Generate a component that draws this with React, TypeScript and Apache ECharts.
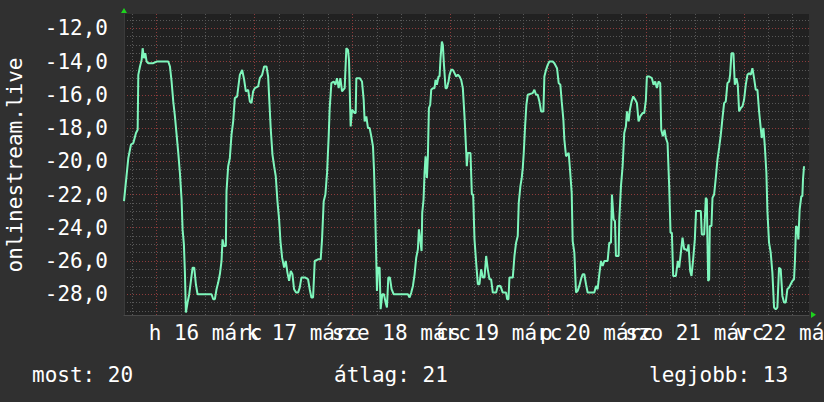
import React, { useEffect, useRef } from "react";
import * as echarts from "echarts";

// hours since 15 márc 16:00, value
const mar15: [number, number][] = [[0,-22.4],[0.65,-20.8],[1.06,-19.8],[1.71,-19.0],[2.29,-18.9],[2.94,-18.3],[3.35,-18.1],[3.51,-14.8],[3.92,-14.3],[4.33,-13.9],[4.57,-13.2],[4.9,-13.8],[5.22,-13.5],[5.55,-14.0],[5.96,-14.1],[7.18,-14.1]];
const mar16: [number, number][] = [[8.0,-14.0],[10.86,-14.0],[11.27,-14.3],[11.67,-15.2],[12.08,-16.4],[12.49,-17.3],[12.9,-18.4],[13.31,-19.5],[13.71,-20.7],[14.12,-22.3],[14.37,-24.1],[14.69,-25.0],[14.94,-26.7],[15.18,-29.1],[15.59,-28.5],[16.0,-28.0],[16.41,-27.2],[16.82,-26.4],[17.22,-26.4],[17.63,-27.4],[18.04,-28.0],[21.47,-28.0],[21.88,-28.3],[22.29,-28.3],[22.69,-27.7],[23.1,-27.3],[23.51,-26.8],[23.92,-26.0],[24.16,-24.7],[24.49,-25.1],[24.98,-25.1],[25.14,-21.8],[25.55,-20.3],[25.96,-19.8],[26.37,-18.4],[26.78,-17.6],[27.18,-16.2],[27.76,-16.1],[28.0,-15.6],[28.41,-14.8],[28.98,-14.5],[29.47,-15.1],[29.88,-15.8],[30.45,-15.7],[30.86,-16.4],[31.27,-16.5],[31.67,-15.8]];
const mar17: [number, number][] = [[32.08,-15.6],[32.9,-15.5],[33.31,-15.0],[33.88,-14.8],[34.37,-14.3],[34.94,-14.3],[35.35,-14.9],[35.59,-16.1],[36.0,-18.1],[36.41,-19.6],[36.82,-20.3],[37.22,-20.9],[37.63,-22.4],[38.04,-23.5],[38.37,-24.8],[38.78,-25.8],[39.27,-26.4],[39.67,-26.0],[40.08,-26.7],[40.49,-27.2],[40.9,-26.6],[41.31,-26.8],[41.71,-27.7],[42.2,-27.9],[42.69,-27.9],[43.1,-27.6],[43.51,-27.0],[44.49,-27.0],[45.14,-27.1],[45.55,-27.7],[45.96,-28.2],[46.37,-28.2],[46.78,-26.0],[47.59,-25.9],[48.24,-25.9],[48.57,-24.7],[48.98,-22.4],[49.39,-22.0],[49.8,-20.7],[50.2,-18.5],[50.45,-16.8],[50.86,-15.3],[51.43,-15.2],[51.84,-15.4],[52.24,-15.0],[52.65,-15.6],[53.06,-15.0],[53.47,-15.8],[54.12,-15.6],[54.53,-13.2],[54.94,-13.3],[55.18,-13.9],[55.59,-17.9],[55.92,-16.9]];
const mar18: [number, number][] = [[56.57,-17.1],[56.82,-17.1],[56.98,-15.0],[57.8,-15.0],[58.37,-15.2],[58.78,-16.3],[59.02,-17.6],[59.43,-17.3],[59.84,-18.0],[60.24,-18.0],[60.65,-18.5],[61.06,-19.1],[61.31,-20.5],[61.55,-22.5],[61.8,-25.1],[62.04,-27.8],[62.29,-26.4],[62.69,-26.4],[62.94,-28.9],[63.35,-28.0],[63.76,-28.0],[64.16,-28.5],[64.49,-28.8],[64.82,-27.0],[65.22,-27.0],[65.63,-27.7],[66.12,-28.0],[69.63,-28.0],[70.04,-28.2],[70.45,-27.9],[70.86,-27.5],[71.27,-26.8],[71.67,-25.8],[72.08,-25.3],[72.33,-24.1],[72.65,-24.7],[72.98,-25.4],[73.14,-23.1],[73.47,-22.3],[73.71,-20.7],[73.96,-19.7],[74.29,-21.0],[74.53,-19.7],[74.78,-16.8],[75.1,-16.6],[75.35,-15.7],[75.76,-15.6],[76.16,-15.6],[76.41,-15.1],[76.73,-15.4],[77.14,-14.9],[77.39,-14.9],[77.63,-13.8],[77.96,-12.8],[78.2,-13.0],[78.45,-14.1],[78.86,-15.6],[79.18,-15.6],[79.59,-15.2],[79.84,-14.8]];
const mar19: [number, number][] = [[80.24,-14.5],[80.65,-14.5],[81.06,-14.7],[81.47,-14.9],[81.88,-14.8],[82.29,-14.9],[82.69,-15.1],[83.1,-15.6],[83.51,-17.3],[83.92,-19.4],[84.08,-20.3],[84.33,-19.5],[84.98,-19.5],[85.31,-22.0],[85.63,-22.0],[85.96,-24.7],[86.37,-26.1],[86.78,-27.4],[87.18,-27.4],[87.59,-26.5],[88.0,-27.0],[88.41,-27.0],[88.82,-25.7],[89.22,-26.5],[89.63,-27.1],[90.04,-27.1],[90.45,-27.9],[91.27,-27.9],[91.67,-27.5],[92.33,-27.5],[92.9,-27.9],[93.71,-27.9],[93.96,-28.3],[94.29,-28.3],[94.53,-27.0],[95.35,-27.0],[95.76,-25.7],[96.16,-24.9],[96.57,-24.5],[96.82,-22.5],[97.22,-21.5],[97.55,-21.0],[97.8,-20.4],[98.04,-19.5],[98.37,-17.9],[98.69,-16.6],[99.02,-16.0],[100.24,-15.9],[100.65,-15.7],[101.06,-16.0],[101.47,-16.0],[101.88,-16.4],[102.29,-17.0],[102.86,-17.0],[103.1,-14.9],[103.51,-14.5],[103.92,-14.2]];
const mar20: [number, number][] = [[104.33,-14.0],[105.14,-14.0],[105.55,-14.1],[106.2,-14.4],[106.61,-15.3],[107.02,-15.4],[107.35,-16.4],[107.76,-17.5],[108.0,-18.7],[108.41,-19.7],[109.06,-19.5],[109.39,-20.5],[109.8,-21.9],[110.04,-24.8],[110.45,-25.5],[110.86,-27.9],[111.27,-27.8],[111.67,-27.5],[112.08,-27.1],[112.49,-26.8],[112.9,-26.8],[113.31,-27.4],[113.71,-27.9],[115.35,-27.9],[115.76,-27.5],[116.16,-27.7],[116.57,-26.8],[116.98,-26.0],[117.39,-26.3],[117.8,-26.0],[118.61,-26.0],[119.02,-24.9],[119.43,-24.9],[119.67,-22.0],[120.08,-23.5],[120.41,-23.6],[120.65,-25.7],[121.31,-25.7],[121.47,-23.5],[121.88,-21.5],[122.29,-20.3],[122.69,-18.3],[123.1,-17.9],[123.35,-17.0],[123.76,-17.6],[124.08,-16.9],[124.49,-16.4],[124.9,-16.1],[125.39,-16.3],[125.8,-16.5],[126.2,-17.6],[126.61,-17.3],[127.18,-17.1],[127.59,-17.1]];
const mar21: [number, number][] = [[128.0,-16.3],[128.24,-14.9],[128.82,-14.9],[129.47,-15.0],[129.88,-15.4],[130.29,-15.2],[130.69,-15.6],[131.1,-15.2],[131.51,-15.3],[131.76,-18.1],[132.16,-18.5],[132.57,-18.1],[132.9,-18.6],[133.31,-18.9],[133.71,-21.5],[134.04,-24.3],[134.37,-24.3],[134.69,-26.9],[135.35,-26.9],[135.84,-26.0],[136.16,-26.4],[136.57,-25.5],[136.98,-24.6],[137.39,-25.3],[137.8,-25.3],[138.2,-25.4],[138.45,-25.0],[138.86,-26.6],[139.18,-26.9],[139.59,-25.9],[140.0,-24.7],[140.3,-23.0],[141.47,-23.0],[141.71,-24.4],[142.29,-24.4],[142.69,-22.2],[142.94,-22.3],[143.1,-24.9],[143.27,-27.2],[143.51,-27.1],[143.67,-23.9],[144.08,-23.9],[144.33,-22.2],[144.73,-22.0],[145.14,-21.0],[145.55,-19.9],[145.96,-19.2],[146.37,-18.4],[146.78,-17.4],[147.18,-16.5],[147.59,-16.4],[148.0,-15.3],[148.41,-15.2],[148.65,-14.8],[148.98,-13.5],[149.47,-13.5],[149.8,-15.4],[150.2,-15.0],[150.53,-15.4],[150.86,-17.0],[151.27,-16.8],[151.67,-16.7]];
const mar22: [number, number][] = [[152.08,-16.3],[152.49,-15.4],[152.9,-14.8],[153.31,-14.7],[153.71,-14.8],[154.12,-14.4],[154.53,-15.0],[154.94,-15.7],[155.35,-15.7],[155.76,-17.0],[156.16,-18.0],[156.41,-18.6],[156.82,-18.0],[157.14,-19.0],[157.55,-20.7],[157.8,-23.0],[158.2,-24.9],[158.61,-25.5],[159.02,-26.7],[159.43,-28.8],[159.84,-28.9],[160.24,-28.8],[160.65,-26.4],[161.06,-26.5],[161.47,-28.1],[161.88,-28.5],[162.29,-28.5],[162.69,-27.7],[163.1,-27.6],[163.51,-27.4],[163.92,-27.2],[164.33,-27.1],[164.57,-25.9],[164.82,-23.9],[165.14,-24.0],[165.39,-24.7],[165.71,-22.9],[166.12,-22.1],[166.37,-22.1],[166.53,-21.1],[166.78,-20.3]];

// x axis (hours)
const midnights = [8, 32, 56, 80, 104, 128, 152];
const sixHourLines = [2, 14, 20, 26, 38, 44, 50, 62, 68, 74, 86, 92, 98, 110, 116, 122, 134, 140, 146, 158, 164];
const noonHoursA = [20, 68, 116, 164];
const dayLabelsA = ["h 16 márc", "sze 18 márc", "p 20 márc", "v 22 márc"];
const noonHoursB = [44, 92, 140];
const dayLabelsB = ["k 17 márc", "cs 19 márc", "szo 21 márc"];

// y axis
const yMajor = [-28, -26, -24, -22, -20, -18, -16, -14, -12];
const yMinor = [-29, -28.5, -27.5, -27, -26.5, -25.5, -25, -24.5, -23.5, -23, -22.5, -21.5, -21, -20.5, -19.5, -19, -18.5, -17.5, -17, -16.5, -15.5, -15, -14.5, -13.5, -13, -12.5, -11.5];

const axisTitle = "onlinestream.live";
const statTexts = ["most: 20", "átlag: 21", "legjobb: 13"];

const FONT = "'DejaVu Sans Mono', monospace";
const Y_MIN = -29.25;
const Y_MAX = -11.14;

export default function App() {
  const ref = useRef<HTMLDivElement>(null);
  useEffect(() => {
    if (!ref.current) return;
    const chart = echarts.init(ref.current, undefined, { renderer: "svg" });
    const data = [...mar15, ...mar16, ...mar17, ...mar18, ...mar19, ...mar20, ...mar21, ...mar22];
    const minorLine = { show: true, lineStyle: { color: "#575757", width: 1, type: [1, 2] as any } };
    const majorLine = { show: true, lineStyle: { color: "#8c3b3b", width: 1, type: [1, 2] as any } };
    const labelBase = {
      color: "#ffffff", fontFamily: FONT, fontSize: 21, margin: 7,
      hideOverlap: false, showMinLabel: true, showMaxLabel: true,
    };
    chart.setOption({
      animation: false,
      backgroundColor: "#303030",
      grid: {
        left: 124, top: 14, width: 685, height: 301, show: true,
        backgroundColor: "#212121", borderWidth: 0, outerBoundsMode: "none", containLabel: false,
      },
      xAxis: [
        {
          type: "value", min: 0, max: 168, position: "top",
          axisLine: { show: false }, axisTick: { show: false, customValues: sixHourLines },
          axisLabel: { show: false }, splitLine: minorLine,
        },
        {
          type: "value", min: 0, max: 168, position: "bottom",
          axisLine: { show: true, lineStyle: { color: "#4a4a4a" } },
          axisTick: { show: false, customValues: midnights },
          axisLabel: {
            ...labelBase,
            customValues: noonHoursA,
            formatter: (v: number) => dayLabelsA[noonHoursA.indexOf(Math.round(v))] ?? "",
          },
          splitLine: majorLine,
        },
        {
          type: "value", min: 0, max: 168, position: "bottom",
          axisLine: { show: false }, axisTick: { show: false, customValues: midnights },
          axisLabel: {
            ...labelBase,
            customValues: noonHoursB,
            formatter: (v: number) => dayLabelsB[noonHoursB.indexOf(Math.round(v))] ?? "",
          },
          splitLine: { show: false },
        },
      ],
      yAxis: [
        {
          type: "value", min: Y_MIN, max: Y_MAX, position: "right",
          axisLine: { show: false }, axisTick: { show: false, customValues: yMinor },
          axisLabel: { show: false }, splitLine: minorLine,
        },
        {
          type: "value", min: Y_MIN, max: Y_MAX, position: "left",
          axisLine: { show: true, lineStyle: { color: "#3a3a3a" } },
          axisTick: { show: false, customValues: yMajor },
          axisLabel: {
            customValues: yMajor,
            formatter: (v: number) => v.toFixed(1).replace(".", ","),
            color: "#ffffff", fontFamily: FONT, fontSize: 21, margin: 16,
            showMinLabel: true, showMaxLabel: true,
          },
          splitLine: majorLine,
        },
      ],
      series: [
        {
          type: "line", xAxisIndex: 1, yAxisIndex: 1, data,
          showSymbol: false, symbol: "none",
          lineStyle: { color: "#7ff6bc", width: 2 },
          z: 5, clip: true,
        },
      ],
      graphic: [
        {
          type: "text", x: 15, y: 165, rotation: Math.PI / 2,
          style: { text: axisTitle, fill: "#ffffff", fontFamily: FONT, fontSize: 21, align: "center", verticalAlign: "middle" },
        },
        { type: "text", x: 32, y: 375, style: { text: statTexts[0], fill: "#ffffff", fontFamily: FONT, fontSize: 21, align: "left", verticalAlign: "middle" } },
        { type: "text", x: 334, y: 375, style: { text: statTexts[1], fill: "#ffffff", fontFamily: FONT, fontSize: 21, align: "left", verticalAlign: "middle" } },
        { type: "text", x: 649, y: 375, style: { text: statTexts[2], fill: "#ffffff", fontFamily: FONT, fontSize: 21, align: "left", verticalAlign: "middle" } },
        { type: "polygon", shape: { points: [[121, 13], [127, 13], [124, 8]] }, style: { fill: "#1ed21e" } },
        { type: "polygon", shape: { points: [[811, 311.5], [811, 318], [816, 314.7]] }, style: { fill: "#1ed21e" } },
      ],
    });
    return () => chart.dispose();
  }, []);
  return (
    <div
      ref={ref}
      style={{ position: "absolute", left: 0, top: 0, width: 824, height: 402 }}
    />
  );
}
